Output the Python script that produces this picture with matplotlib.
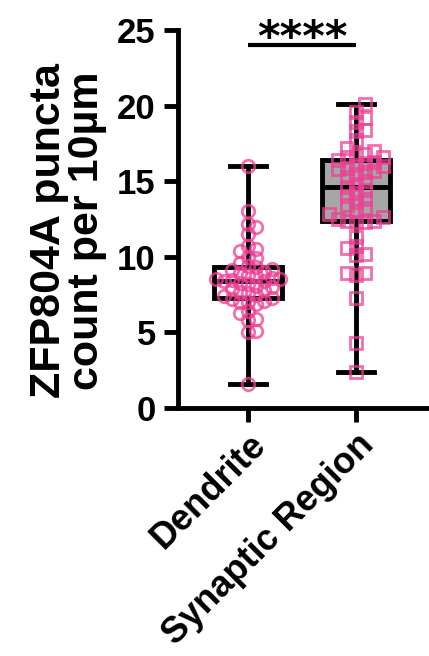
import numpy as np
import matplotlib
matplotlib.use("Agg")
import matplotlib.pyplot as plt

plt.rcParams['font.family'] = ['Liberation Sans', 'DejaVu Sans']
plt.rcParams['font.weight'] = 'bold'

# data
groups = ["Dendrite", "Synaptic Region"]
dendrite = [16.0, 13.0, 12.2, 12.0, 11.5, 10.7, 10.5, 10.4, 10.0, 9.9, 9.6, 9.4,
            9.3, 9.2, 9.1, 9.0, 8.9, 8.8, 8.7, 8.6, 8.5, 8.5, 8.45, 8.4, 8.4, 8.3,
            8.2, 8.1, 8.0, 7.9, 7.8, 7.7, 7.6, 7.5, 7.4, 7.3,
            7.2, 7.1, 7.0, 7.0, 6.9, 6.4, 6.3, 5.9, 5.8, 5.1, 5.0, 1.6]
synaptic = [20.1, 19.6, 19.2, 18.9, 18.4, 18.3, 17.7, 17.2, 17.0, 16.8, 16.7, 16.6, 16.6,
            16.4, 16.3, 16.2, 16.1, 16.0, 15.9, 15.8, 15.7, 15.6, 15.5, 15.3, 15.0, 14.8,
            14.6, 14.4, 14.2, 14.0, 13.8, 13.6, 13.4, 13.2, 13.0, 12.8, 12.6, 12.5, 12.4,
            12.4, 12.3, 12.3, 11.3, 10.7, 10.6, 10.2, 10.1, 8.9, 8.9, 8.8, 7.3, 4.3, 2.4]
y_ticks = [0, 5, 10, 15, 20, 25]
y_label = "ZFP804A puncta\ncount per 10µm"
sig_label = "****"

pink = '#ee3f94'
W, H = 429, 656

fig = plt.figure(figsize=(W / 100, H / 100), dpi=100)
ax = fig.add_axes([178 / W, 1 - 408 / H, 1 - 178 / W, (408 - 30) / H])
ax.set_xlim(-0.648, 1.676)
ax.set_ylim(0, 25)

px_x = (W - 178) / (1.676 + 0.648)
px_y = (408 - 30) / 25.0


def swarm(values, gap):
    # beeswarm with square footprint: each point as close to the centre as it fits
    vals = np.asarray(values, float)
    xs = np.zeros(len(vals))
    placed = []
    for i in np.argsort(vals):
        y = vals[i] * px_y
        for k in range(200):
            done = False
            for s in ([0] if k == 0 else [k, -k]):
                x = float(s)
                if all(abs(x - a) >= gap or abs(y - b) >= gap for a, b in placed):
                    placed.append((x, y))
                    xs[i] = x / px_x
                    done = True
                    break
            if done:
                break
    return xs


bp = ax.boxplot([dendrite, synaptic], positions=[0, 1], widths=0.63, whis=(0, 100),
                patch_artist=True, showfliers=False, capwidths=0.33,
                boxprops=dict(linewidth=3.5, edgecolor='black'),
                medianprops=dict(linewidth=3.5, color='black'),
                whiskerprops=dict(linewidth=3.5, color='black'),
                capprops=dict(linewidth=3.5, color='black'), zorder=2)
bp['boxes'][0].set_facecolor('white')
bp['boxes'][1].set_facecolor('#a6a6a6')

ax.plot(swarm(dendrite, 8), dendrite, 'o', mfc='none', mec=pink, mew=2,
        ms=9, alpha=0.75, zorder=4, clip_on=False)
ax.plot(1 + swarm(synaptic, 8.5), synaptic, 's', mfc='none', mec=pink, mew=2,
        ms=9, alpha=0.75, zorder=4, clip_on=False)

# significance bar
ax.plot([0, 1], [24.0, 24.0], color='black', lw=3, clip_on=False, solid_capstyle='butt')
ax.text(0.5, 23.6, sig_label, ha='center', va='baseline', fontsize=31,
        family='DejaVu Sans', fontweight='bold', clip_on=False)

ax.set_yticks(y_ticks)
ax.set_xticks([0, 1])
ax.set_xticklabels(groups, rotation=45, ha='right', rotation_mode='anchor')
ax.tick_params(axis='both', labelsize=25, width=3.5, length=10)
ax.tick_params(axis='y', pad=6)
ax.tick_params(axis='x', labelsize=26, pad=4)
ax.set_ylabel(y_label, fontsize=31, fontweight='bold', linespacing=0.95)
ax.yaxis.set_label_coords(-0.283, 0.47)
for s in ['top', 'right']:
    ax.spines[s].set_visible(False)
for s in ['left', 'bottom']:
    ax.spines[s].set_linewidth(3.5)

fig.savefig('out.png', dpi=100)
